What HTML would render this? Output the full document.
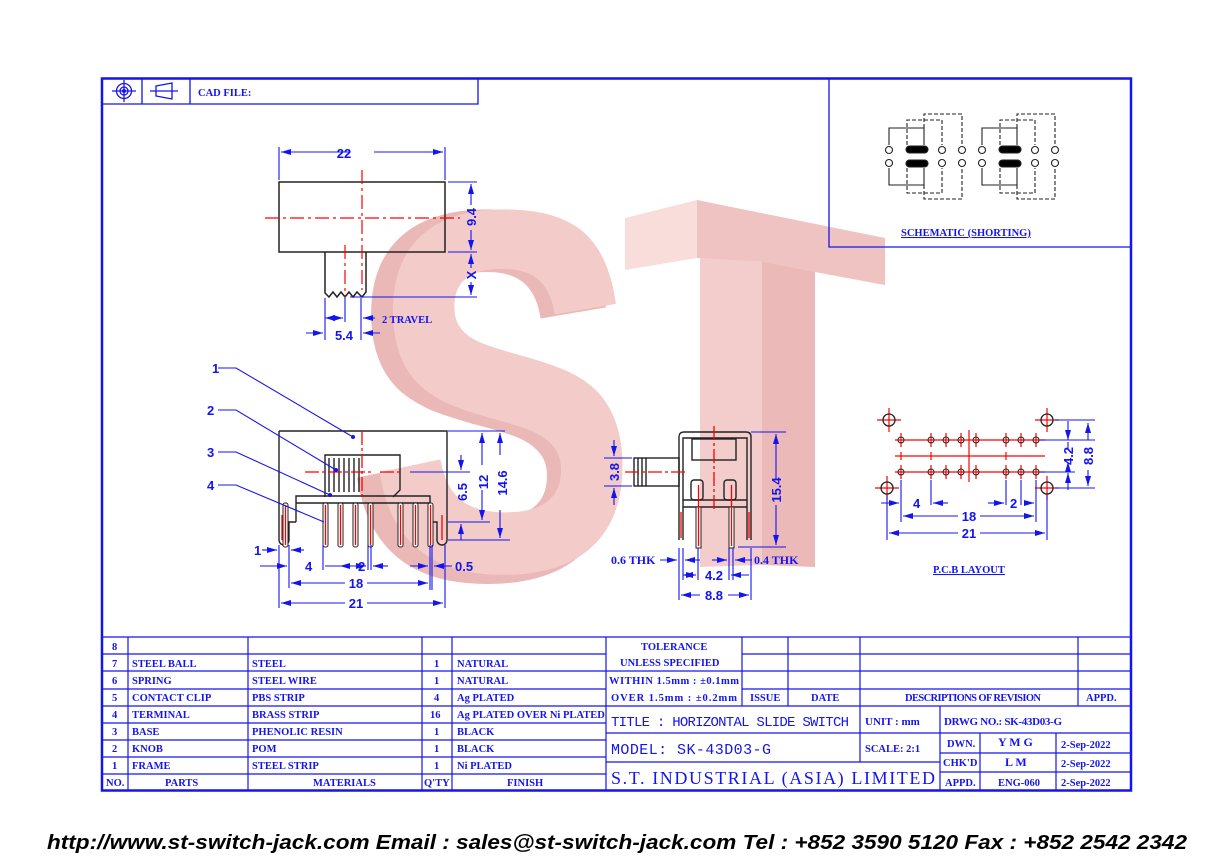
<!DOCTYPE html>
<html><head><meta charset="utf-8"><style>
html,body{margin:0;padding:0;background:#fff;width:1232px;height:868px;overflow:hidden}
svg{display:block}
.b{fill:#1414f0;font-family:"Liberation Serif",serif;font-weight:bold;font-size:10.5px}
.d{fill:#1414f0;font-family:"Liberation Sans",sans-serif;font-weight:bold;font-size:13px}
</style></head><body>
<svg width="1232" height="868" viewBox="0 0 1232 868" xmlns="http://www.w3.org/2000/svg">
<defs>
<marker id="a" viewBox="0 0 10 6" refX="10" refY="3" markerWidth="10" markerHeight="6" orient="auto-start-reverse" markerUnits="userSpaceOnUse"><path d="M0,0L10,3L0,6z" fill="#1414f0"/></marker>
</defs>
<!-- watermark -->
<g opacity="0.95">
<text x="350" y="574" font-family="Liberation Sans,sans-serif" font-weight="bold" font-size="515" fill="#e9b5b3" stroke="#e9b5b3" stroke-width="10" transform="translate(350 0) scale(0.8 1) translate(-350 0)">S</text>
<text x="372" y="566" font-family="Liberation Sans,sans-serif" font-weight="bold" font-size="505" fill="#f3c9c7" stroke="#f3c9c7" stroke-width="8" transform="translate(372 0) scale(0.78 1) translate(-372 0)">S</text>
<polygon points="625,218 697,200 697,258 625,270" fill="#f9dcda"/>
<polygon points="697,200 885,238 885,285 815,272 815,292 762,262 697,258" fill="#efc0be"/>
<polygon points="700,258 762,262 762,565 700,567" fill="#f3cbc9"/>
<polygon points="762,262 815,272 815,567 762,565" fill="#eab6b4"/>
</g>
<!-- border -->
<rect x="102" y="78.5" width="1029" height="712" fill="none" stroke="#1414f0" stroke-width="2.5"/>
<g stroke="#1414f0" stroke-width="1.3" fill="none">
<path d="M102 104H478V78M142 78V104M190 78V104"/>
<path d="M829 78V247H1131"/>
<circle cx="124" cy="91" r="7.5"/><circle cx="124" cy="91" r="4"/><path d="M112 91H136M124 80V102"/>
<path d="M150 91H178M156 86L172 83V99L156 96Z"/>
</g>
<circle cx="124" cy="91" r="2" fill="#1414f0"/>
<text class="b" x="198" y="96" font-size="11">CAD FILE:</text>

<!-- top view -->
<g stroke="#222" stroke-width="1.5" fill="none">
<rect x="279" y="182" width="166" height="70"/>
<path d="M325 252V293L329 297L333 292L337 297L341 292L345 297L349 292L353 297L357 292L362 297L366 292V252"/>
</g>
<g stroke="#f00" stroke-width="1.2" stroke-dasharray="14,4,3,4" fill="none">
<path d="M265 218H460M362 170V290M345 245V297"/>
</g>
<g stroke="#1414f0" stroke-width="1.1" fill="none">
<path d="M279 147V180M445 147V180"/>
<path d="M281 152H350M374 152H443" marker-end="url(#a)"/>
<path d="M281 152H300" marker-start="url(#a)"/>
<path d="M448 182H477M448 252H477M350 297H477"/>
<path d="M471 184V205M471 230V250" marker-start="url(#a)" marker-end="url(#a)"/>
<path d="M471 254V268M471 282V295" marker-start="url(#a)" marker-end="url(#a)"/>
<path d="M325 298V340M345 298V322M361 298V340"/>
<path d="M325 318H343" marker-start="url(#a)" marker-end="url(#a)"/>
<path d="M375 318H363" marker-end="url(#a)"/><path d="M306 333H323" marker-end="url(#a)"/><path d="M380 333H363" marker-end="url(#a)"/>
</g>
<text class="d" x="344" y="158" text-anchor="middle">22</text>
<text class="d" transform="translate(476 217) rotate(-90)" text-anchor="middle">9.4</text>
<text class="d" transform="translate(476 275) rotate(-90)" text-anchor="middle">X</text>
<text class="b" x="382" y="323" font-size="12">2 TRAVEL</text>
<text class="d" x="344" y="340" text-anchor="middle">5.4</text>

<!-- front view -->
<g stroke="#222" stroke-width="1.4" fill="none">
<path d="M279 431H447V540a5 5 0 0 1-10 0V522H430M279 431V540a5 5 0 0 0 10 0V522H296"/>
<path d="M325 497V455H400V490L393 497"/>
<path d="M296 522V496H430V522"/>
<path d="M296 503H430"/>
<path d="M329 458V492M334 458V492M339 458V492M344 458V492M349 458V492M354 458V492M359 458V492"/>
</g>
<g stroke="#222" stroke-width="1" fill="#fff">
<rect x="283" y="503" width="5" height="44" rx="2"/>
<rect x="323" y="503" width="5" height="44" rx="2"/><rect x="338" y="503" width="5" height="44" rx="2"/>
<rect x="353" y="503" width="5" height="44" rx="2"/><rect x="368" y="503" width="5" height="44" rx="2"/>
<rect x="398" y="503" width="5" height="44" rx="2"/><rect x="413" y="503" width="5" height="44" rx="2"/>
<rect x="428" y="503" width="5" height="44" rx="2"/>
</g>
<g stroke="#f00" stroke-width="1.3" fill="none">
<path d="M285.5 505V545M325.5 505V545M340.5 505V545M355.5 505V545M370.5 505V545M400.5 505V545M415.5 505V545M430.5 505V545M282 515V540M442 515V540"/>
<path d="M362 431V497M305 472H372M380 472H400" stroke-dasharray="14,3,3,3"/>
</g>
<g stroke="#1414f0" stroke-width="1.1" fill="none">
<path d="M218 368H236L353 437M218 410H236L336 470M218 452H236L330 495M218 485H236L324 522"/>
<path d="M410 472H470M448 431H505M448 522H490M448 540H510"/>
<path d="M482 433V465M482 490V520" marker-start="url(#a)" marker-end="url(#a)"/>
<path d="M500 433V455M500 510V538" marker-start="url(#a)" marker-end="url(#a)"/>
<path d="M461 455V470" marker-end="url(#a)"/><path d="M461 540V524" marker-end="url(#a)"/>
<path d="M279 545V608M289 545V588M323 545V570M368 545V570M371 545V570M430 545V590M432 545V590M445 545V608"/>
<path d="M262 550H277" marker-end="url(#a)"/><path d="M304 550H291" marker-end="url(#a)"/>
<path d="M260 566H287" marker-end="url(#a)"/><path d="M340 566H356M325 566H340" marker-start="url(#a)"/>
<path d="M355 566H366" marker-end="url(#a)"/><path d="M388 566H373" marker-end="url(#a)"/>
<path d="M410 566H428" marker-end="url(#a)"/><path d="M452 566H434" marker-end="url(#a)"/>
<path d="M291 583H345M367 583H428" marker-start="url(#a)" marker-end="url(#a)"/>
<path d="M281 603H345M367 603H443" marker-start="url(#a)" marker-end="url(#a)"/>
</g>
<g class="d"><text x="212" y="373">1</text><text x="207" y="415">2</text><text x="207" y="457">3</text><text x="207" y="490">4</text>
<text transform="translate(488 482) rotate(-90)" text-anchor="middle">12</text>
<text transform="translate(507 483) rotate(-90)" text-anchor="middle">14.6</text>
<text transform="translate(467 492) rotate(-90)" text-anchor="middle">6.5</text>
<text x="254" y="555">1</text><text x="305" y="571">4</text><text x="358" y="571">2</text><text x="455" y="571">0.5</text>
<text x="356" y="588" text-anchor="middle">18</text><text x="356" y="608" text-anchor="middle">21</text></g>
<circle cx="353" cy="437" r="2" fill="#1414f0"/><circle cx="336" cy="470" r="2" fill="#1414f0"/><circle cx="330" cy="495" r="2" fill="#1414f0"/>

<!-- side view -->
<g stroke="#222" stroke-width="1.4" fill="none">
<path d="M679 540V437Q679 432 684 432H746Q751 432 751 437V540M683 540V438H747V540"/>
<rect x="692" y="439" width="44" height="21"/>
<rect x="634" y="458" width="45" height="28"/>
<path d="M638 458V486M642 458V486M646 458V486"/>
<path d="M683 500H747M683 507H747"/>
<rect x="691" y="480" width="12" height="20" rx="3"/><rect x="724" y="480" width="12" height="20" rx="3"/>
</g>
<g stroke="#222" stroke-width="1" fill="#fff"><rect x="696" y="507" width="5" height="41"/><rect x="729" y="507" width="5" height="41"/></g>
<g stroke="#f00" stroke-width="1.3" fill="none">
<path d="M698.5 485V546M731.5 485V546M681 512V538M749 512V538"/>
<path d="M625 472H686M714 426V512" stroke-dasharray="14,3,3,3"/>
</g>
<g stroke="#1414f0" stroke-width="1.1" fill="none">
<path d="M751 432H786M738 547H786"/>
<path d="M776 434V480M776 505V545" marker-start="url(#a)" marker-end="url(#a)"/>
<path d="M604 458H632M604 486H632"/>
<path d="M614 440V456" marker-end="url(#a)"/><path d="M614 505V488" marker-end="url(#a)"/>
<path d="M679 548V600M683 548V580M698 548V580M729 548V580M733 548V580M751 548V600"/>
<path d="M660 560H677" marker-end="url(#a)"/><path d="M700 560H685" marker-end="url(#a)"/>
<path d="M712 560H727" marker-end="url(#a)"/><path d="M752 560H735" marker-end="url(#a)"/>
<path d="M683 575H696" marker-start="url(#a)" marker-end="url(#a)"/>
<path d="M731 575H749" marker-start="url(#a)"/>
<path d="M681 595H700M728 595H749" marker-start="url(#a)" marker-end="url(#a)"/>
</g>
<g class="d"><text transform="translate(619 472) rotate(-90)" text-anchor="middle">3.8</text>
<text transform="translate(781 490) rotate(-90)" text-anchor="middle">15.4</text>
<text x="611" y="564" font-family="Liberation Serif,serif" font-size="12">0.6 THK</text>
<text x="754" y="564" font-family="Liberation Serif,serif" font-size="12">0.4 THK</text>
<text x="714" y="580" text-anchor="middle">4.2</text><text x="714" y="600" text-anchor="middle">8.8</text></g>

<!-- PCB layout -->
<g stroke="#f00" stroke-width="1.2" fill="none">
<path d="M895 440H1045M895 456H1045M895 472H1045M969 430V482"/>
<path d="M901 433V447M931 433V447M946 433V447M961 433V447M976 433V447M1006 433V447M1021 433V447M1036 433V447"/>
<path d="M901 465V479M931 465V479M946 465V479M961 465V479M976 465V479M1006 465V479M1021 465V479M1036 465V479M901 452V460M931 452V460M1006 452V460"/>
<path d="M877 420H901M889 408V432M1035 420H1059M1047 408V432M875 488H899M887 476V500M1035 488H1059M1047 476V500"/>
</g>
<g stroke="#222" stroke-width="1.3" fill="none">
<circle cx="889" cy="420" r="6"/><circle cx="1047" cy="420" r="6"/><circle cx="887" cy="488" r="6"/><circle cx="1047" cy="488" r="6"/>
<g stroke-width="1"><circle cx="901" cy="440" r="3"/><circle cx="931" cy="440" r="3"/><circle cx="946" cy="440" r="3"/><circle cx="961" cy="440" r="3"/><circle cx="976" cy="440" r="3"/><circle cx="1006" cy="440" r="3"/><circle cx="1021" cy="440" r="3"/><circle cx="1036" cy="440" r="3"/>
<circle cx="901" cy="472" r="3"/><circle cx="931" cy="472" r="3"/><circle cx="946" cy="472" r="3"/><circle cx="961" cy="472" r="3"/><circle cx="976" cy="472" r="3"/><circle cx="1006" cy="472" r="3"/><circle cx="1021" cy="472" r="3"/><circle cx="1036" cy="472" r="3"/></g>
</g>
<g stroke="#1414f0" stroke-width="1.1" fill="none">
<path d="M1040 440H1095M1040 472H1075M1055 488H1095M887 495V540M901 480V522M931 480V505M1006 480V505M1021 480V505M1036 480V522M1047 495V540"/>
<path d="M1068 442V450M1068 470V462" marker-end="url(#a)"/><path d="M1068 421V440" marker-end="url(#a)"/><path d="M1068 490V473" marker-end="url(#a)"/>
<path d="M1088 423V440M1088 470V486" marker-start="url(#a)" marker-end="url(#a)"/>
<path d="M1055 420H1095"/>
<path d="M881 503H899" marker-end="url(#a)"/><path d="M948 503H933" marker-end="url(#a)"/>
<path d="M988 503H1004" marker-end="url(#a)"/><path d="M1024 503H1034" marker-end="url(#a)"/>
<path d="M903 516H958M980 516H1034" marker-start="url(#a)" marker-end="url(#a)"/>
<path d="M889 533H958M980 533H1045" marker-start="url(#a)" marker-end="url(#a)"/>
</g>
<g class="d"><text transform="translate(1073 456) rotate(-90)" text-anchor="middle">4.2</text>
<text transform="translate(1093 456) rotate(-90)" text-anchor="middle">8.8</text>
<text x="913" y="508">4</text><text x="1010" y="508">2</text>
<text x="969" y="521" text-anchor="middle">18</text><text x="969" y="538" text-anchor="middle">21</text></g>
<text class="b" x="933" y="573" font-size="12" text-decoration="underline">P.C.B LAYOUT</text>

<!-- schematic -->
<g stroke="#222" stroke-width="1.1" fill="none">
<g id="sg">
<circle cx="889" cy="150" r="3.5"/><circle cx="889" cy="163" r="3.5"/>
<circle cx="942" cy="150" r="3.5"/><circle cx="942" cy="163" r="3.5"/>
<circle cx="962" cy="150" r="3.5"/><circle cx="962" cy="163" r="3.5"/>
<path d="M889 145V128H924V145M889 168V185H924V168"/>
<path d="M907 145V120H942V145M907 168V193H942V168M924 128V114H962V145M924 185V199H962V168" stroke-dasharray="4,2"/>
<rect x="906" y="146" width="22" height="7" rx="3.5" fill="#000"/><rect x="906" y="160" width="22" height="7" rx="3.5" fill="#000"/>
</g>
<use href="#sg" transform="translate(93 0)"/>
</g>
<text class="b" x="901" y="236" font-size="12" text-decoration="underline">SCHEMATIC (SHORTING)</text>

<!-- tables -->
<g stroke="#1414f0" stroke-width="1.2" fill="none">
<path d="M102 637H1131"/>
<path d="M102 654H606M102 671H606M102 689H606M102 706H606M102 723H606M102 740H606M102 757H606M102 774H606"/>
<path d="M128 637V791M248 637V791M422 637V791M452 637V791M606 637V791"/>
<path d="M742 637V706M788 637V706M860 637V762M1078 637V706M940 706V791M980 733V791M1056 733V791"/>
<path d="M742 654H1131M606 671H1131M742 689H1131M606 706H1131M606 733H1131M606 762H940M940 753H1131M940 772H1131"/>
</g>
<g class="b">
<text x="112" y="650">8</text>
<text x="112" y="667">7</text><text x="132" y="667">STEEL BALL</text><text x="252" y="667">STEEL</text><text x="434" y="667">1</text><text x="457" y="667">NATURAL</text>
<text x="112" y="684">6</text><text x="132" y="684">SPRING</text><text x="252" y="684">STEEL WIRE</text><text x="434" y="684">1</text><text x="457" y="684">NATURAL</text>
<text x="112" y="701">5</text><text x="132" y="701">CONTACT CLIP</text><text x="252" y="701">PBS STRIP</text><text x="434" y="701">4</text><text x="457" y="701">Ag PLATED</text>
<text x="112" y="718">4</text><text x="132" y="718">TERMINAL</text><text x="252" y="718">BRASS STRIP</text><text x="430" y="718">16</text><text x="457" y="718">Ag PLATED OVER Ni PLATED</text>
<text x="112" y="735">3</text><text x="132" y="735">BASE</text><text x="252" y="735">PHENOLIC RESIN</text><text x="434" y="735">1</text><text x="457" y="735">BLACK</text>
<text x="112" y="752">2</text><text x="132" y="752">KNOB</text><text x="252" y="752">POM</text><text x="434" y="752">1</text><text x="457" y="752">BLACK</text>
<text x="112" y="769">1</text><text x="132" y="769">FRAME</text><text x="252" y="769">STEEL STRIP</text><text x="434" y="769">1</text><text x="457" y="769">Ni PLATED</text>
<text x="106" y="786">NO.</text><text x="165" y="786">PARTS</text><text x="313" y="786">MATERIALS</text><text x="424" y="786">Q'TY</text><text x="507" y="786">FINISH</text>
<text x="641" y="650">TOLERANCE</text><text x="620" y="666">UNLESS  SPECIFIED</text>
<text x="609" y="684" textLength="130">WITHIN 1.5mm : ±0.1mm</text><text x="611" y="701" textLength="126">OVER 1.5mm : ±0.2mm</text>
<text x="750" y="701">ISSUE</text><text x="811" y="701">DATE</text><text x="905" y="701" textLength="136">DESCRIPTIONS OF REVISION</text><text x="1086" y="701">APPD.</text>
<text x="611" y="726" font-size="14" font-weight="normal" textLength="238" font-family="Liberation Mono,monospace">TITLE :  HORIZONTAL SLIDE SWITCH</text>
<text x="865" y="725" font-size="11">UNIT :  mm</text>
<text x="944" y="725" font-size="11" textLength="118">DRWG NO.: SK-43D03-G</text>
<text x="611" y="754" font-size="15" font-weight="normal" textLength="160" font-family="Liberation Mono,monospace">MODEL:  SK-43D03-G</text>
<text x="865" y="752">SCALE:  2:1</text>
<text x="947" y="747">DWN.</text><text x="998" y="746" font-size="12">Y M G</text><text x="1061" y="748">2-Sep-2022</text>
<text x="943" y="766">CHK'D</text><text x="1005" y="766" font-size="12">L M</text><text x="1061" y="767">2-Sep-2022</text>
<text x="945" y="786">APPD.</text><text x="998" y="786">ENG-060</text><text x="1061" y="786">2-Sep-2022</text>
<text x="611" y="784" font-size="18" font-weight="normal" textLength="324">S.T. INDUSTRIAL (ASIA) LIMITED</text>
</g>
<text x="47" y="849" font-family="Liberation Sans,sans-serif" font-weight="bold" font-style="italic" font-size="20" fill="#000" textLength="1140" lengthAdjust="spacingAndGlyphs">http://www.st-switch-jack.com  Email : sales@st-switch-jack.com  Tel : +852 3590 5120  Fax : +852 2542 2342</text>
</svg>
</body></html>
